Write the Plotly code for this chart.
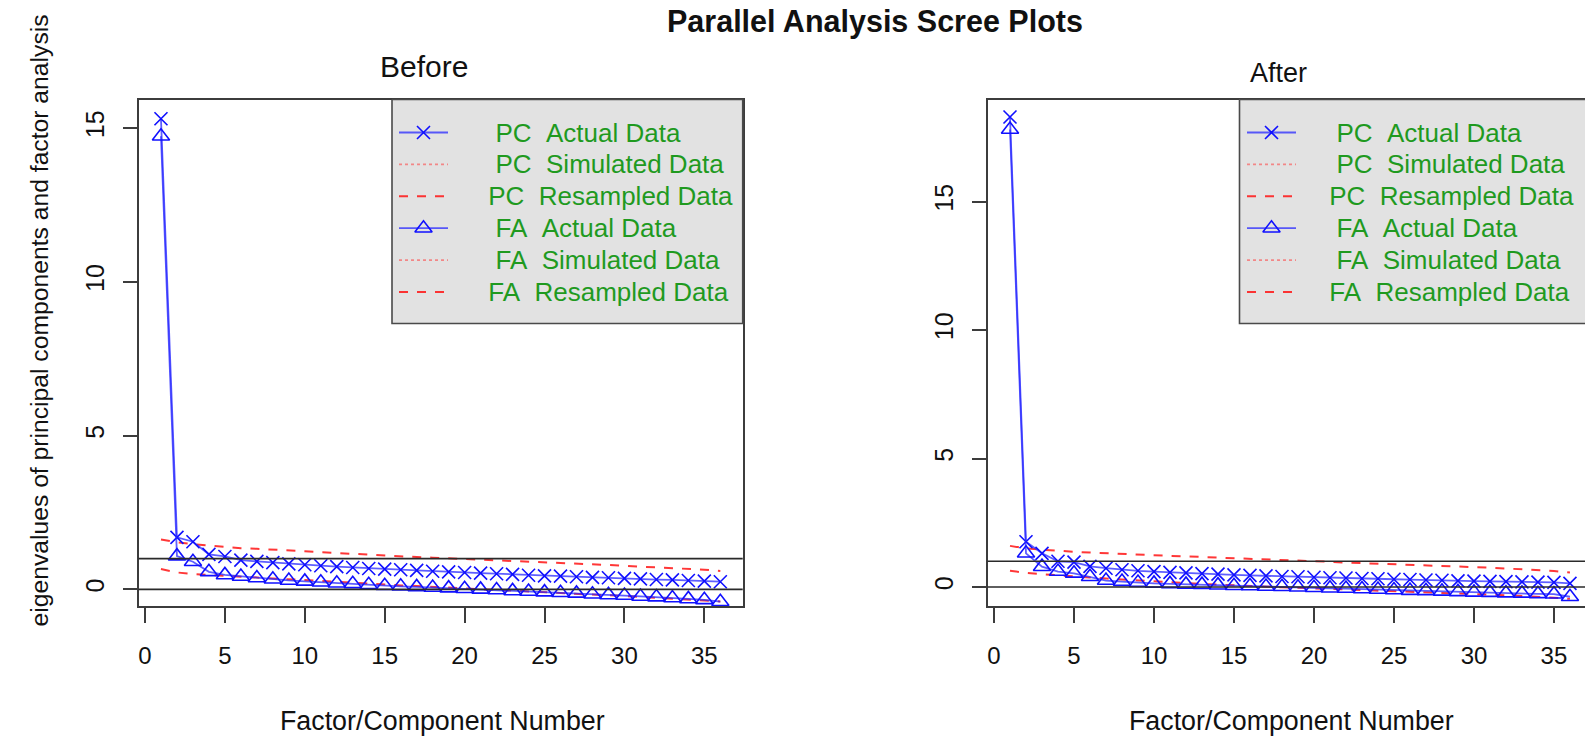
import plotly.graph_objects as go

# ---------------- data ----------------
factor_number = list(range(1, 37))

pc_actual_before = [15.30, 1.69, 1.55, 1.14, 1.07, 0.95, 0.91, 0.87, 0.83, 0.80, 0.77, 0.74,
                    0.71, 0.68, 0.66, 0.64, 0.62, 0.59, 0.57, 0.55, 0.53, 0.51, 0.49, 0.46,
                    0.44, 0.43, 0.41, 0.39, 0.38, 0.36, 0.34, 0.32, 0.31, 0.29, 0.27, 0.25]
fa_actual_before = [14.73, 1.08, 0.90, 0.57, 0.47, 0.42, 0.37, 0.33, 0.29, 0.26, 0.23, 0.20,
                    0.18, 0.15, 0.12, 0.10, 0.08, 0.06, 0.04, 0.02, 0.00, -0.02, -0.05, -0.07,
                    -0.09, -0.11, -0.13, -0.16, -0.18, -0.20, -0.23, -0.25, -0.28, -0.31, -0.34, -0.40]
pc_resampled_before = [1.62, 1.53, 1.47, 1.42, 1.38, 1.34, 1.32, 1.30, 1.27, 1.24, 1.21, 1.18,
                       1.15, 1.13, 1.10, 1.08, 1.05, 1.03, 1.01, 0.98, 0.96, 0.94, 0.92, 0.90,
                       0.88, 0.85, 0.83, 0.81, 0.79, 0.77, 0.74, 0.72, 0.69, 0.67, 0.64, 0.60]
fa_resampled_before = [0.66, 0.55, 0.50, 0.47, 0.44, 0.41, 0.38, 0.35, 0.33, 0.30, 0.27, 0.24,
                       0.21, 0.19, 0.16, 0.13, 0.11, 0.08, 0.06, 0.03, 0.01, -0.02, -0.04, -0.07,
                       -0.09, -0.12, -0.14, -0.17, -0.19, -0.22, -0.24, -0.27, -0.29, -0.32, -0.35, -0.39]

pc_actual_after = [18.29, 1.76, 1.31, 1.00, 0.97, 0.80, 0.73, 0.67, 0.63, 0.60, 0.57, 0.55,
                   0.52, 0.50, 0.47, 0.45, 0.43, 0.41, 0.40, 0.38, 0.36, 0.35, 0.33, 0.32,
                   0.30, 0.29, 0.27, 0.26, 0.24, 0.23, 0.22, 0.21, 0.20, 0.19, 0.18, 0.14]
fa_actual_after = [17.80, 1.31, 0.79, 0.60, 0.53, 0.40, 0.25, 0.21, 0.17, 0.14, 0.12, 0.10,
                   0.09, 0.07, 0.05, 0.04, 0.02, 0.01, -0.01, -0.03, -0.05, -0.06, -0.08, -0.10,
                   -0.12, -0.14, -0.15, -0.17, -0.19, -0.21, -0.22, -0.24, -0.25, -0.27, -0.28, -0.38]
pc_resampled_after = [1.60, 1.50, 1.45, 1.40, 1.37, 1.34, 1.31, 1.28, 1.26, 1.24, 1.21, 1.19,
                      1.17, 1.14, 1.12, 1.10, 1.07, 1.05, 1.02, 1.00, 0.98, 0.95, 0.93, 0.91,
                      0.89, 0.86, 0.84, 0.82, 0.80, 0.77, 0.75, 0.72, 0.69, 0.66, 0.62, 0.56]
fa_resampled_after = [0.63, 0.55, 0.50, 0.45, 0.40, 0.37, 0.33, 0.29, 0.25, 0.21, 0.18, 0.15,
                      0.12, 0.09, 0.07, 0.04, 0.02, -0.01, -0.03, -0.05, -0.08, -0.10, -0.12, -0.14,
                      -0.16, -0.18, -0.20, -0.23, -0.25, -0.27, -0.30, -0.32, -0.35, -0.38, -0.42, -0.46]

reference_lines = [0, 1]
x_ticks = [0, 5, 10, 15, 20, 25, 30, 35]
y_ticks = [0, 5, 10, 15]

legend_labels = ["\u00a0\u00a0PC\u00a0\u00a0Actual Data", "\u00a0\u00a0PC\u00a0\u00a0Simulated Data",
                 "\u00a0PC\u00a0\u00a0Resampled Data", "\u00a0\u00a0FA\u00a0\u00a0Actual Data",
                 "\u00a0\u00a0FA\u00a0\u00a0Simulated Data", "\u00a0FA\u00a0\u00a0Resampled Data"]

main_title = "Parallel Analysis Scree Plots"
panel_titles = ["Before", "After"]
x_title = "Factor/Component Number"
y_title = "eigenvalues of principal components and factor analysis"

# ---------------- styling ----------------
W, H = 1585, 736
FONT = "Liberation Sans, Arial, Helvetica, sans-serif"
BLUE_LINE = "rgba(40,40,255,0.75)"
BLUE = "#1010ff"
RED = "rgba(255,20,20,0.85)"
RED_DOT = "rgba(255,60,60,0.55)"
GREEN = "#1f9a1f"
AXIS = "#3c3c3c"


def px_x(p):
    return p / W


def px_y(p):
    return 1 - p / H


fig = go.Figure()

panels = [
    dict(xa="x", ya="y", pc=pc_actual_before, fa=fa_actual_before,
         pcr=pc_resampled_before, far=fa_resampled_before),
    dict(xa="x2", ya="y2", pc=pc_actual_after, fa=fa_actual_after,
         pcr=pc_resampled_after, far=fa_resampled_after),
]

for p in panels:
    fig.add_trace(go.Scatter(x=factor_number, y=p["pcr"], mode="lines",
                             line=dict(color=RED, width=2, dash="dash"),
                             xaxis=p["xa"], yaxis=p["ya"], showlegend=False, hoverinfo="skip"))
    fig.add_trace(go.Scatter(x=factor_number, y=p["far"], mode="lines",
                             line=dict(color=RED, width=2, dash="dash"),
                             xaxis=p["xa"], yaxis=p["ya"], showlegend=False, hoverinfo="skip"))
    fig.add_trace(go.Scatter(x=factor_number, y=p["pc"], mode="lines+markers",
                             line=dict(color=BLUE_LINE, width=1.8),
                             marker=dict(symbol="x-thin-open", size=13, color=BLUE,
                                         line=dict(color=BLUE, width=1.6)),
                             xaxis=p["xa"], yaxis=p["ya"], showlegend=False, cliponaxis=False))
    fig.add_trace(go.Scatter(x=factor_number, y=p["fa"], mode="lines+markers",
                             line=dict(color=BLUE_LINE, width=1.8),
                             marker=dict(symbol="triangle-up-open", size=15, color=BLUE,
                                         line=dict(color=BLUE, width=1.6)),
                             xaxis=p["xa"], yaxis=p["ya"], showlegend=False, cliponaxis=False))
    for v in reference_lines:
        fig.add_shape(type="line", xref=p["xa"] + " domain", yref=p["ya"],
                      x0=0, x1=1, y0=v, y1=v, line=dict(color="#2a2a2a", width=1.6))

# ---------------- legends (pixel-space overlay axes) ----------------
legend_specs = [
    dict(box=(392, 99.5, 742.7, 323.5), line=(399, 448), text_x=479),
    dict(box=(1239.5, 99.5, 1600, 323.5), line=(1247, 1296), text_x=1320),
]
row_y = [132.5 + 31.9 * i for i in range(6)]

for spec in legend_specs:
    x0, y0, x1, y1 = spec["box"]
    fig.add_trace(go.Scatter(x=[x0, x1, x1, x0, x0], y=[y0, y0, y1, y1, y0], mode="lines",
                             fill="toself", fillcolor="#e2e2e2",
                             line=dict(color="#4a4a4a", width=1.6),
                             xaxis="x3", yaxis="y3", showlegend=False, hoverinfo="skip"))
    lx0, lx1 = spec["line"]
    mx = (lx0 + lx1) / 2
    styles = [
        dict(line=dict(color=BLUE_LINE, width=1.8), sym="x-thin-open", size=13),
        dict(line=dict(color=RED_DOT, width=1.6, dash="dot"), sym=None),
        dict(line=dict(color=RED, width=2, dash="dash"), sym=None),
        dict(line=dict(color=BLUE_LINE, width=1.8), sym="triangle-up-open", size=15),
        dict(line=dict(color=RED_DOT, width=1.6, dash="dot"), sym=None),
        dict(line=dict(color=RED, width=2, dash="dash"), sym=None),
    ]
    for ry, st, lab in zip(row_y, styles, legend_labels):
        fig.add_trace(go.Scatter(x=[lx0, lx1], y=[ry, ry], mode="lines", line=st["line"],
                                 xaxis="x3", yaxis="y3", showlegend=False, hoverinfo="skip"))
        if st["sym"]:
            fig.add_trace(go.Scatter(x=[mx], y=[ry], mode="markers",
                                     marker=dict(symbol=st["sym"], size=st["size"], color=BLUE,
                                                 line=dict(color=BLUE, width=1.6)),
                                     xaxis="x3", yaxis="y3", showlegend=False, hoverinfo="skip"))
        fig.add_annotation(x=spec["text_x"], y=ry, xref="x3", yref="y3", text=lab,
                           showarrow=False, xanchor="left", yanchor="middle",
                           font=dict(family=FONT, size=26, color=GREEN))

# ---------------- titles ----------------
fig.add_annotation(x=px_x(875), y=px_y(22), xref="paper", yref="paper", text="<b>" + main_title + "</b>",
                   showarrow=False, xanchor="center", yanchor="middle",
                   font=dict(family=FONT, size=30.5, color="#111"))
fig.add_annotation(x=px_x(424), y=px_y(66), xref="paper", yref="paper", text=panel_titles[0],
                   showarrow=False, xanchor="center", yanchor="middle",
                   font=dict(family=FONT, size=30, color="#111"))
fig.add_annotation(x=px_x(1278), y=px_y(73), xref="paper", yref="paper", text=panel_titles[1],
                   showarrow=False, xanchor="center", yanchor="middle",
                   font=dict(family=FONT, size=27, color="#111"))
for cx in (442, 1291):
    fig.add_annotation(x=px_x(cx), y=px_y(721), xref="paper", yref="paper", text=x_title,
                       showarrow=False, xanchor="center", yanchor="middle",
                       font=dict(family=FONT, size=26.8, color="#111"))
fig.add_annotation(x=px_x(38.5), y=px_y(321), xref="paper", yref="paper", text=y_title,
                   showarrow=False, xanchor="center", yanchor="middle", textangle=-90,
                   font=dict(family=FONT, size=24.7, color="#111"))

# ---------------- axes ----------------
xcommon = dict(tickmode="array", tickvals=x_ticks, ticks="outside", ticklen=15, tickwidth=1.6,
               tickcolor=AXIS, showline=True, linecolor=AXIS, linewidth=1.6, showgrid=False,
               zeroline=False, tickfont=dict(family=FONT, size=24, color="#111"),
               ticklabelstandoff=12, fixedrange=True)
ycommon = dict(tickmode="array", tickvals=y_ticks, ticks="outside", ticklen=14, tickwidth=1.6,
               tickcolor=AXIS, showline=True, linecolor=AXIS, linewidth=1.6, showgrid=False,
               zeroline=False, tickfont=dict(family=FONT, size=25, color="#111"),
               tickangle=-90, ticklabelstandoff=9, fixedrange=True)

fig.update_layout(
    width=W, height=H,
    margin=dict(l=0, r=0, t=0, b=0),
    paper_bgcolor="white", plot_bgcolor="rgba(0,0,0,0)",
    showlegend=False,
    xaxis=dict(domain=[px_x(138.6), px_x(742.7)], range=[-0.4, 37.4], anchor="y", mirror=True, **xcommon),
    yaxis=dict(domain=[px_y(606), px_y(100)], range=[-0.54, 15.91], anchor="x", mirror=True, **ycommon),
    xaxis2=dict(domain=[px_x(987.6), 1.0], range=[-0.4, 36.94], anchor="y2", mirror=True, **xcommon),
    yaxis2=dict(domain=[px_y(606), px_y(99.5)], range=[-0.74, 18.97], anchor="x2", mirror=False, **ycommon),
    xaxis3=dict(domain=[0, 1], range=[0, W], visible=False, fixedrange=True, anchor="y3"),
    yaxis3=dict(domain=[0, 1], range=[H, 0], visible=False, fixedrange=True, anchor="x3"),
)

fig.write_html("out.html", config={"displayModeBar": False},
               post_script="document.body.style.margin='0px';")
